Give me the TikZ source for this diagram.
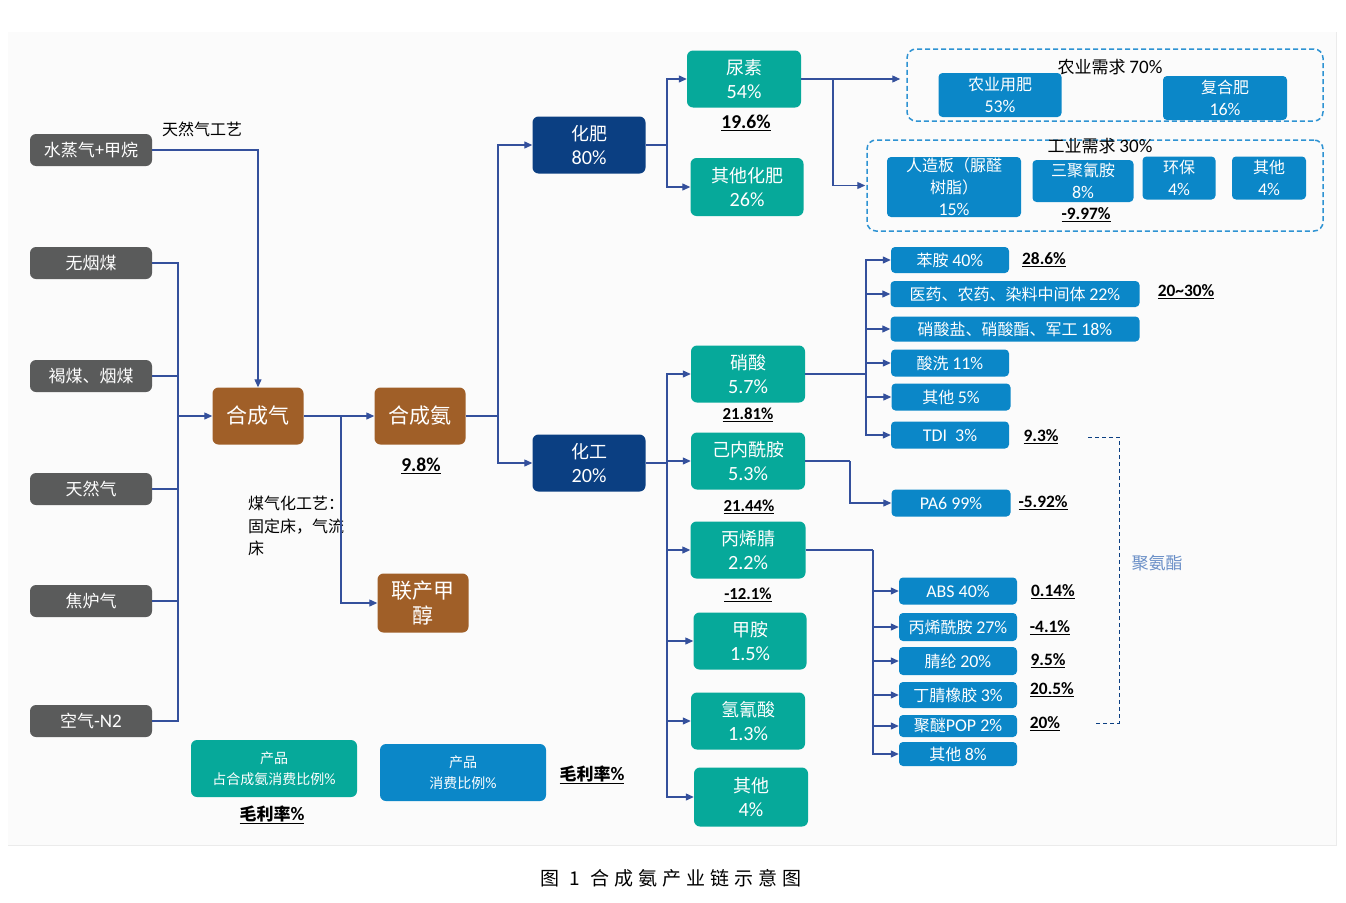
\documentclass[tikz,border=0pt]{standalone}
\usepackage{fontspec}
\setmainfont{Noto Sans CJK SC}
\newfontfamily\lat[Scale=1.12]{Carlito}
\usetikzlibrary{arrows.meta,calc}
\definecolor{cgray}{HTML}{5A5B5B}
\definecolor{cbrown}{HTML}{A05F28}
\definecolor{cnavy}{HTML}{0B3F82}
\definecolor{cteal}{HTML}{06A99A}
\definecolor{cblue}{HTML}{0B87C8}
\definecolor{cdash}{HTML}{2E93D3}
\definecolor{cline}{HTML}{34509C}
\definecolor{cpu}{HTML}{6A8FC7}
\definecolor{cpanel}{HTML}{FBFBFB}
\newcommand\numf[1]{{\lat #1}}
\newcommand\hsp{\hspace{5pt}}
\begin{document}
\begin{tikzpicture}[x=1pt,y=-1pt,
  box/.style={rounded corners=6, inner sep=0pt, align=center, text=white},
  gbox/.style={box, fill=cgray, minimum width=122, minimum height=32, font=\fontsize{17}{20}\selectfont},
  brbox/.style={box, fill=cbrown, minimum width=91, minimum height=57, font=\fontsize{21}{25}\selectfont},
  nvbox/.style={box, fill=cnavy, minimum width=113, minimum height=57, font=\fontsize{18}{24}\selectfont},
  tlbox/.style={box, fill=cteal, minimum width=114, minimum height=57, font=\fontsize{18}{24}\selectfont},
  bbox/.style={box, rounded corners=4, fill=cblue, font=\fontsize{16}{22}\selectfont},
  dbox/.style={draw=cdash, line width=1.5, dash pattern=on 5pt off 3pt, rounded corners=9, inner sep=0pt},
  ln/.style={draw=cline, line width=1.2},
  arr/.style={ln, -{Triangle[length=8,width=7]}},
  pct/.style={inner sep=0pt, font=\lat\bfseries\fontsize{17.5}{20}\selectfont},
  pcts/.style={inner sep=0pt, font=\lat\bfseries\fontsize{15.5}{18}\selectfont},
  pctt/.style={inner sep=0pt, font=\lat\bfseries\fontsize{15}{18}\selectfont},
  lbl/.style={inner sep=0pt, font=\fontsize{16}{22.5}\selectfont},
]
\useasboundingbox (0,0) rectangle (1346,902);
\fill[cpanel] (8,32) rectangle (1336,845);
\draw[black!8, line width=0.6] (8,845) -- (1336,845) -- (1336,32);

% source boxes
\node[gbox] (g1) at (91,150) {水蒸气+甲烷};
\node[gbox] (g2) at (91,263) {无烟煤};
\node[gbox] (g3) at (91,376) {褐煤、烟煤};
\node[gbox] (g4) at (91,489) {天然气};
\node[gbox] (g5) at (91,601) {焦炉气};
\node[gbox] (g6) at (91,721) {空气\numf{-N2}};

% syngas / ammonia
\node[brbox] (syn) at (258,416) {合成气};
\node[brbox] (nh3) at (420,416) {合成氨};
\node[brbox, minimum height=59] (meth) at (423,603) {联产甲\\醇};

% navy
\node[nvbox] (fert) at (589,145) {化肥\\\numf{80\%}};
\node[nvbox] (chem) at (589,463) {化工\\\numf{20\%}};

% teal
\node[tlbox] (urea) at (744,79) {尿素\\\numf{54\%}};
\node[tlbox, minimum width=113, minimum height=58] (ofert) at (747,187) {其他化肥\\\numf{26\%}};
\node[tlbox] (nit) at (748,374) {硝酸\\\numf{5.7\%}};
\node[tlbox] (cap) at (748,461) {己内酰胺\\\numf{5.3\%}};
\node[tlbox, minimum width=115] (acn) at (748,550) {丙烯腈\\\numf{2.2\%}};
\node[tlbox, minimum width=113] (mam) at (750,641) {甲胺\\\numf{1.5\%}};
\node[tlbox] (hcn) at (748,721) {氢氰酸\\\numf{1.3\%}};
\node[tlbox, minimum height=59] (oth) at (751,797) {其他\\\numf{4\%}};

% dashed groups
\node[dbox, minimum width=416, minimum height=72] (agri) at (1115,85) {};
\node[dbox, minimum width=456, minimum height=91] (ind) at (1095,185.5) {};
\node[inner sep=0pt, font=\fontsize{17}{20}\selectfont] (agrit) at (1110,67) {农业需求 \numf{70\%}};
\node[inner sep=0pt, font=\fontsize{17}{20}\selectfont] (indt) at (1100,146) {工业需求 \numf{30\%}};

\node[bbox, minimum width=123, minimum height=44] (ag1) at (1000,95) {农业用肥\\\numf{53\%}};
\node[bbox, minimum width=124, minimum height=44] (ag2) at (1225,98) {复合肥\\\numf{16\%}};
\node[bbox, minimum width=134, minimum height=60] (in1) at (954,187) {人造板（脲醛\\树脂）\\\numf{15\%}};
\node[bbox, minimum width=101, minimum height=42] (in2) at (1083,181) {三聚氰胺\\\numf{8\%}};
\node[bbox, minimum width=73, minimum height=43] (in3) at (1179,178) {环保\\\numf{4\%}};
\node[bbox, minimum width=74, minimum height=43] (in4) at (1269,178) {其他\\\numf{4\%}};

% nitric acid products
\node[bbox, minimum width=118, minimum height=26] (n1) at (950,260) {苯胺 \numf{40\%}};
\node[bbox, minimum width=249, minimum height=26] (n2) at (1015,294) {医药、农药、染料中间体 \numf{22\%}};
\node[bbox, minimum width=249, minimum height=25] (n3) at (1015,329) {硝酸盐、硝酸酯、军工 \numf{18\%}};
\node[bbox, minimum width=118, minimum height=27] (n4) at (950,363) {酸洗 \numf{11\%}};
\node[bbox, minimum width=119, minimum height=27] (n5) at (951,397) {其他 \numf{5\%}};
\node[bbox, minimum width=118, minimum height=27] (n6) at (950,435) {\numf{TDI\ \ 3\%}};
\node[bbox, minimum width=119, minimum height=27] (pa6) at (951,503) {\numf{PA6 99\%}};

% acrylonitrile products
\node[bbox, minimum width=118, minimum height=27] (a1) at (958,591) {\numf{ABS 40\%}};
\node[bbox, minimum width=118, minimum height=28] (a2) at (958,627) {丙烯酰胺 \numf{27\%}};
\node[bbox, minimum width=118, minimum height=28] (a3) at (958,661) {腈纶 \numf{20\%}};
\node[bbox, minimum width=118, minimum height=26] (a4) at (958,695) {丁腈橡胶 \numf{3\%}};
\node[bbox, minimum width=118, minimum height=22] (a5) at (958,726) {聚醚\numf{POP 2\%}};
\node[bbox, minimum width=118, minimum height=24] (a6) at (958,754) {其他 \numf{8\%}};

% percent labels
\node[pct] (l98) at (421,466) {\underline{9.8\%}};
\node[pct] (l196) at (746,123) {\underline{19.6\%}};
\node[pcts] (l997) at (1086,215) {\underline{-9.97\%}};
\node[pcts] (l286) at (1044,260) {\underline{28.6\%}};
\node[pcts] (l2030) at (1186,292) {\underline{20\textasciitilde 30\%}};
\node[pcts] (l93) at (1041,437) {\underline{9.3\%}};
\node[pcts] (l592) at (1043,503) {\underline{-5.92\%}};
\node[pctt] (l2181) at (748,415) {\underline{21.81\%}};
\node[pctt] (l2144) at (749,507) {\underline{21.44\%}};
\node[pctt] (l121) at (748,595) {\underline{-12.1\%}};
\node[pcts] (l014) at (1053,592) {\underline{0.14\%}};
\node[pcts] (l41) at (1050,628) {\underline{-4.1\%}};
\node[pcts] (l95) at (1048,661) {\underline{9.5\%}};
\node[pcts] (l205) at (1052,690) {\underline{20.5\%}};
\node[pcts] (l20) at (1045,724) {\underline{20\%}};

% other labels
\node[lbl] (tnq) at (202,129) {天然气工艺};
\node[lbl, anchor=north west, align=left] (mqh) at (248,496) {煤气化工艺：\\固定床，气流\\床};
\node[inner sep=0pt, text=cpu, font=\fontsize{17}{20}\selectfont] (pu) at (1157,563) {聚氨酯};

% legend
\node[box, fill=cteal, minimum width=166, minimum height=57, font=\fontsize{14}{21}\selectfont] (leg1) at (274,768.5) {产品\\占合成氨消费比例\numf{\%}};
\node[box, fill=cblue, minimum width=166, minimum height=57, font=\fontsize{14}{21}\selectfont] (leg2) at (463,772.5) {产品\\消费比例\numf{\%}};
\node[inner sep=0pt, font=\bfseries\fontsize{17}{20}\selectfont] (mll1) at (272,815) {\underline{毛利率\numf{\%}}};
\node[inner sep=0pt, font=\bfseries\fontsize{17}{20}\selectfont] (mll2) at (592,775) {\underline{毛利率\numf{\%}}};

% caption
\node[inner sep=0pt, font=\fontsize{19}{22}\selectfont] (cap1) at (671,878) {图\hspace{10pt}1\hspace{10pt}合\hsp 成\hsp 氨\hsp 产\hsp 业\hsp 链\hsp 示\hsp 意\hsp 图};

% ---- connectors ----
\coordinate (busL) at (178,416);
\draw[arr] (g1.east) -| (syn.north);
\foreach \g in {g2,g3,g4,g5,g6} \draw[ln] (\g.east) -| (busL);
\draw[arr] (busL) -- (syn.west);
\draw[arr] (syn.east) -- (nh3.west);
\coordinate (b1) at (341,416);
\draw[arr] (b1) |- (meth.west);

\coordinate (b2) at (498,416);
\draw[ln] (nh3.east) -- (b2);
\draw[arr] (b2) |- (fert.west);
\draw[arr] (b2) |- (chem.west);

\coordinate (b3) at (667,145);
\draw[ln] (fert.east) -- (b3);
\draw[arr] (b3) |- (urea.west);
\draw[arr] (b3) |- (ofert.west);

\coordinate (b4) at (833,79);
\draw[ln] (urea.east) -- (b4);
\draw[arr, shorten >=6pt] (b4) -- (b4 -| agri.west);
\draw[arr, shorten >=1pt] (b4) |- (ind.west);

\coordinate (b5) at (667,463);
\draw[ln] (chem.east) -- (b5);
\foreach \t in {nit,cap,acn,mam,hcn,oth} \draw[arr] (b5) |- (\t.west);

\coordinate (b6) at (866,374);
\draw[ln] (nit.east) -- (b6);
\foreach \t in {n1,n2,n3,n4,n5,n6} \draw[arr] (b6) |- (\t.west);

\coordinate (b7) at (850,461);
\draw[ln] (cap.east) -- (b7);
\draw[arr] (b7) |- (pa6.west);

\coordinate (b8) at (873,550);
\draw[ln] (acn.east) -- (b8);
\foreach \t in {a1,a2,a3,a4,a5,a6} \draw[arr] (b8) |- (\t.west);

% polyurethane bracket
\coordinate (q1) at (1088,437);
\coordinate (qx) at (1119,437);
\coordinate (q2) at (1096,723);
\draw[cnavy, line width=1, dash pattern=on 4pt off 3pt] (q1) -- (qx) |- (q2);
\end{tikzpicture}
\end{document}
